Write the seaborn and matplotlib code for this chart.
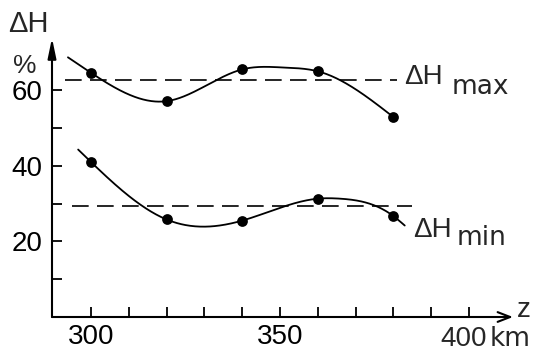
import numpy as np
import pandas as pd
import matplotlib
matplotlib.use("Agg")
import matplotlib.pyplot as plt
import seaborn as sns

# ---- data ----
z_points = [300, 320, 340, 360, 380]
dh_max_points = [64.6, 57.1, 65.5, 65.0, 52.9]
dh_min_points = [41.0, 25.8, 25.5, 31.3, 26.7]

# knots of the hand-drawn smooth curves
max_curve_z = [293.9, 300, 320, 340, 351, 360, 380]
max_curve_v = [68.7, 64.6, 57.1, 65.5, 66.0, 65.0, 52.9]
min_curve_z = [296.6, 300, 320, 330, 340, 360, 366, 380, 383]
min_curve_v = [44.3, 41.0, 25.8, 23.9, 25.5, 31.3, 31.3, 26.7, 24.2]

dh_max_level = 62.6
dh_max_span = [293, 381]
dh_min_level = 29.3
dh_min_span = [295, 385]

x_ticks = list(range(300, 401, 10))
x_ticklabels = ["300", "", "", "", "", "350", "", "", "", "", ""]
x_last_label = "400"
x_unit = "km"
y_ticks = [10, 20, 30, 40, 50, 60]
y_ticklabels = ["", "20", "", "40", "", "60"]


def natural_spline(xk, yk, xs):
    xk = np.asarray(xk, float)
    yk = np.asarray(yk, float)
    n = len(xk)
    h = np.diff(xk)
    A = np.zeros((n, n))
    r = np.zeros(n)
    A[0, 0] = 1
    A[-1, -1] = 1
    for i in range(1, n - 1):
        A[i, i - 1] = h[i - 1]
        A[i, i] = 2 * (h[i - 1] + h[i])
        A[i, i + 1] = h[i]
        r[i] = 3 * ((yk[i + 1] - yk[i]) / h[i] - (yk[i] - yk[i - 1]) / h[i - 1])
    c = np.linalg.solve(A, r)
    b = (yk[1:] - yk[:-1]) / h - h * (2 * c[:-1] + c[1:]) / 3
    d = (c[1:] - c[:-1]) / (3 * h)
    idx = np.clip(np.searchsorted(xk, xs) - 1, 0, n - 2)
    dx = xs - xk[idx]
    return yk[idx] + b[idx] * dx + c[idx] * dx ** 2 + d[idx] * dx ** 3


sns.set_style("white")
plt.rcParams["font.family"] = ["Liberation Sans", "DejaVu Sans"]
FS = 20

fig = plt.figure(figsize=(5.41, 3.55), dpi=100)
W, H = 541, 355
X0, Y0, X1, Y1 = 52, 317, 513, 38        # axes corners in pixels
ax = fig.add_axes([X0 / W, (H - Y0) / H, (X1 - X0) / W, (Y0 - Y1) / H])
ax.set_xlim(300 + (X0 - 91) / 3.78, 300 + (X1 - 91) / 3.78)
ax.set_ylim(0, (Y0 - Y1) / 3.78)

lw = 1.3
for cz, cv in [(max_curve_z, max_curve_v), (min_curve_z, min_curve_v)]:
    xs = np.linspace(cz[0], cz[-1], 400)
    df = pd.DataFrame({"z": xs, "v": natural_spline(cz, cv, xs)})
    sns.lineplot(data=df, x="z", y="v", ax=ax, color="black", lw=lw,
                 sort=False, estimator=None)

for lvl, span in [(dh_max_level, dh_max_span), (dh_min_level, dh_min_span)]:
    ax.plot(span, [lvl, lvl], color="black", lw=1.2, linestyle=(0, (10, 5)))

pts = pd.DataFrame({"z": z_points * 2,
                    "v": dh_max_points + dh_min_points})
sns.scatterplot(data=pts, x="z", y="v", ax=ax, color="black", s=60,
                edgecolor="black", linewidth=0, zorder=5)

# axes with arrows
for s in ax.spines.values():
    s.set_visible(False)
ax.annotate("", xy=(0, 1.0), xytext=(0, 0), xycoords="axes fraction",
            arrowprops=dict(arrowstyle="-|>,head_length=1.2,head_width=0.25",
                            color="black", lw=1.5, shrinkA=0, shrinkB=0))
ax.annotate("", xy=(1.0, 0), xytext=(0, 0), xycoords="axes fraction",
            arrowprops=dict(arrowstyle="->,head_length=0.9,head_width=0.35",
                            color="black", lw=1.5, shrinkA=0, shrinkB=0))

ax.set_xticks(x_ticks)
ax.set_xticklabels(x_ticklabels)
ax.set_yticks(y_ticks)
ax.set_yticklabels(y_ticklabels)
ax.tick_params(axis="both", direction="in", length=7, width=1.3,
               labelsize=FS, color="black", labelcolor="black",
               bottom=True, left=True)
ax.tick_params(axis="y", pad=7)
ax.tick_params(axis="x", pad=5)
ax.set_xlabel("")
ax.set_ylabel("")

# text
def ftext(px, py, s, **kw):
    fig.text(px / W, 1 - py / H, s, **kw)

ftext(8, 32, "ΔH", fontsize=21, ha="left", va="baseline")
ftext(25, 66, "%", fontsize=19, ha="center", va="center")
ftext(464, 346, x_last_label, fontsize=FS, ha="center", va="baseline")
ftext(490, 346, x_unit, fontsize=19, ha="left", va="baseline",
      family="DejaVu Sans")
ftext(517, 317, "z", fontsize=FS, ha="left", va="baseline")

sub_kw = dict(fontsize=19, ha="left", va="baseline", family="DejaVu Sans")
ftext(404, 84, "ΔH", fontsize=FS, ha="left", va="baseline")
ftext(452, 94, "max", **sub_kw)
ftext(413, 237, "ΔH", fontsize=FS, ha="left", va="baseline")
ftext(457, 245, "min", **sub_kw)

fig.savefig("out.png", dpi=100)
